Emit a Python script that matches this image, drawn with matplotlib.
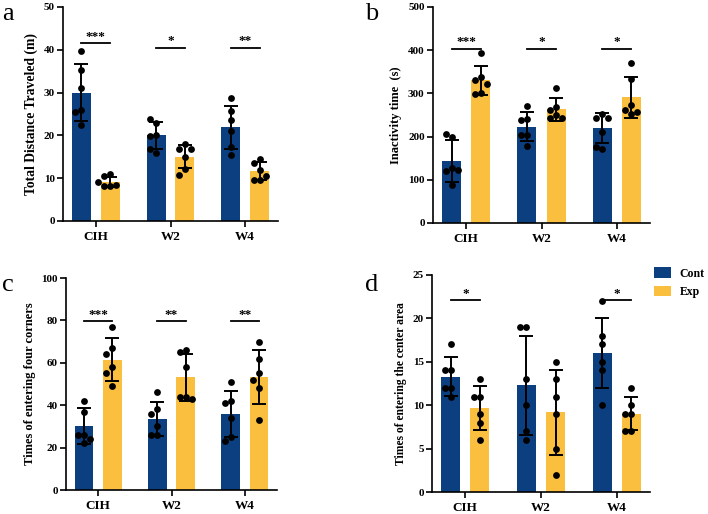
import matplotlib
matplotlib.use("Agg")
import matplotlib.pyplot as plt
from matplotlib.patches import Patch
import numpy as np

plt.rcParams["font.family"] = ["Liberation Serif", "DejaVu Serif"]
plt.rcParams["font.weight"] = "bold"

# ---- data ----
categories = ["CIH", "W2", "W4"]
groups = ["Cont", "Exp"]

dist_cont_pts = [[39.7, 35.2, 31.1, 26.0, 25.5, 22.5],
                 [22.9, 23.9, 20.0, 19.8, 15.9, 16.9],
                 [28.8, 25.6, 23.5, 21.0, 17.3, 15.4]]
dist_exp_pts = [[10.9, 10.4, 8.1, 8.1, 8.3, 9.1],
                [17.9, 16.9, 16.9, 15.0, 12.2, 10.7],
                [14.6, 13.6, 11.8, 9.6, 9.6, 10.6]]
dist_cont_mean = [30.0, 20.0, 21.9]
dist_cont_sd = [6.6, 3.2, 5.0]
dist_exp_mean = [9.1, 15.0, 11.7]
dist_exp_sd = [1.1, 2.7, 2.1]
dist_sig = ["***", "*", "**"]
dist_sig_y = [41.5, 40.5, 40.5]

inact_cont_pts = [[200, 205, 127, 120, 122, 87],
                  [270, 241, 239, 203, 203, 178],
                  [253, 242, 242, 211, 172, 176]]
inact_exp_pts = [[393, 337, 330, 322, 302, 298],
                 [313, 268, 261, 249, 242, 242],
                 [371, 333, 272, 261, 253, 257]]
inact_cont_mean = [143, 223, 220]
inact_cont_sd = [48, 33, 35]
inact_exp_mean = [330, 263, 291]
inact_exp_sd = [34, 26, 48]
inact_sig = ["***", "*", "*"]
inact_sig_y = [403, 403, 403]

corner_cont_pts = [[42, 37, 26, 26, 22, 24],
                   [46, 38, 36, 30, 26, 26],
                   [51, 42, 41, 34, 25, 23]]
corner_exp_pts = [[77, 67, 64, 58, 55, 49],
                  [66, 65, 58, 44, 44, 43],
                  [70, 62, 55, 52, 48, 33]]
corner_cont_mean = [30.0, 33.5, 36.0]
corner_cont_sd = [8.5, 7.8, 10.8]
corner_exp_mean = [61.5, 53.2, 53.3]
corner_exp_sd = [10.0, 11.0, 12.7]
corner_sig = ["***", "**", "**"]
corner_sig_y = [79.6, 79.6, 79.6]

center_cont_pts = [[17, 14, 14, 12, 12, 11],
                   [19, 19, 13, 10, 7, 6],
                   [22, 18, 17, 15, 14, 10]]
center_exp_pts = [[13, 11, 11, 9, 8, 6],
                  [15, 13, 11, 9, 5, 2],
                  [12, 10, 9, 9, 7, 7]]
center_cont_mean = [13.3, 12.3, 16.0]
center_cont_sd = [2.2, 5.7, 4.05]
center_exp_mean = [9.7, 9.2, 9.0]
center_exp_sd = [2.5, 4.9, 1.9]
center_sig = ["*", "", "*"]
center_sig_y = [22.1, None, 22.1]

BLUE = "#0B3F80"
YELLOW = "#FABF3E"
W, H = 708, 514


def swarm(vals, ymax, hpx, step, dot_px=7.0):
    # simple beeswarm: push overlapping dots sideways
    placed = []
    offs = []
    for v in vals:
        ypx = v / ymax * hpx
        for k in [0, -1, 1, -2, 2, -3, 3]:
            x = k * step
            ok = all((x - px) ** 2 / step ** 2 * dot_px ** 2 + (ypx - py) ** 2 >= (dot_px * 0.95) ** 2
                     for px, py in placed)
            if ok:
                break
        placed.append((x, ypx))
        offs.append(x)
    return offs


def panel(rect, ymax, ystep, ylabel, ylab_size, cont_pts, exp_pts,
          cmean, csd, emean, esd, sig, sig_y):
    l, t, r, b = rect
    ax = fig.add_axes([l / W, 1 - b / H, (r - l) / W, (b - t) / H])
    x = np.arange(len(categories))
    off, bw = 0.193, 0.253
    hpx = b - t
    px_per_unit = (r - l) / 2.88
    step = 6.0 / px_per_unit
    for sgn, mean, sd, pts, col in [(-1, cmean, csd, cont_pts, BLUE),
                                     (1, emean, esd, exp_pts, YELLOW)]:
        xs = x + sgn * off
        ax.bar(xs, mean, width=bw, color=col, zorder=1)
        ax.errorbar(xs, mean, yerr=sd, fmt="none", ecolor="black",
                    elinewidth=1.4, capsize=5, capthick=1.4, zorder=3)
        for xi, p in zip(xs, pts):
            o = swarm(p, ymax, hpx, step)
            ax.scatter(xi + np.array(o), p, s=24, color="black", zorder=4, linewidths=0)
    for xi, s, yv in zip(x, sig, sig_y):
        if s:
            ax.plot([xi - off, xi + off], [yv, yv], color="black", lw=1.3, zorder=2)
            ax.text(xi, yv + ymax * 0.003, s, ha="center", va="bottom",
                    fontsize=9.5, fontweight="bold")
    ax.set_xlim(-0.44, 2.44)
    ax.set_ylim(0, ymax)
    ax.set_yticks(np.arange(0, ymax + ystep / 2, ystep))
    ax.set_xticks(x)
    ax.set_xticklabels(categories, fontsize=9.5, fontweight="bold")
    ax.tick_params(axis="y", labelsize=8, length=4, width=1.2, pad=2)
    ax.tick_params(axis="x", length=4, width=1.2, pad=3)
    for sp in ["top", "right"]:
        ax.spines[sp].set_visible(False)
    for sp in ["left", "bottom"]:
        ax.spines[sp].set_linewidth(1.2)
    ax.set_ylabel(ylabel, fontsize=ylab_size, fontweight="bold", labelpad=4)
    return ax


fig = plt.figure(figsize=(W / 100, H / 100), dpi=100)

panel((63, 7, 278, 221), 50, 10, "Total Distance Traveled (m)", 9.8,
      dist_cont_pts, dist_exp_pts, dist_cont_mean, dist_cont_sd,
      dist_exp_mean, dist_exp_sd, dist_sig, dist_sig_y)
panel((433, 7, 650, 223), 500, 100, "Inactivity time  (s)", 9,
      inact_cont_pts, inact_exp_pts, inact_cont_mean, inact_cont_sd,
      inact_exp_mean, inact_exp_sd, inact_sig, inact_sig_y)
panel((66, 278, 277, 490), 100, 20, "Times of entering four corners", 9,
      corner_cont_pts, corner_exp_pts, corner_cont_mean, corner_cont_sd,
      corner_exp_mean, corner_exp_sd, corner_sig, corner_sig_y)
panel((432, 275, 650, 492), 25, 5, "Times of entering the center area", 8.4,
      center_cont_pts, center_exp_pts, center_cont_mean, center_cont_sd,
      center_exp_mean, center_exp_sd, center_sig, center_sig_y)

# panel letters
for lab, (px, py) in zip("abcd", [(8, 14), (372, 14), (8, 285), (372, 285)]):
    fig.text(px / W, 1 - py / H, lab, fontsize=19, fontweight="normal",
             ha="center", va="center")

handles = [Patch(facecolor=BLUE), Patch(facecolor=YELLOW)]
fig.legend(handles, groups, loc="upper left", bbox_to_anchor=(652 / W, 1 - 265 / H),
           frameon=False, fontsize=8.5, handlelength=1.45, handleheight=1.0,
           labelspacing=0.5, handletextpad=0.7, borderaxespad=0, borderpad=0.2)

fig.savefig("out.png", dpi=100)
